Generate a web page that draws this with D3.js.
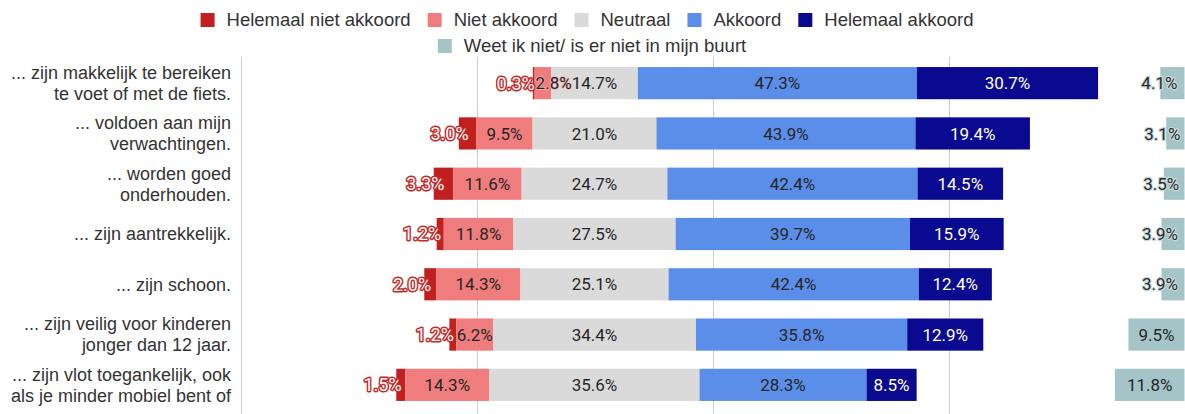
<!DOCTYPE html>
<html>
<head>
<meta charset="utf-8">
<script src="https://cdn.jsdelivr.net/npm/d3@7"></script>
<style>
  html, body { margin: 0; padding: 0; background: #fff; }
  svg { display: block; }
</style>
</head>
<body>
<svg id="chart" width="1185" height="414"></svg>
<script>
// ---- data ----
const categories = [
  ["... zijn makkelijk te bereiken", "te voet of met de fiets."],
  ["... voldoen aan mijn", "verwachtingen."],
  ["... worden goed", "onderhouden."],
  ["... zijn aantrekkelijk."],
  ["... zijn schoon."],
  ["... zijn veilig voor kinderen", "jonger dan 12 jaar."],
  ["... zijn vlot toegankelijk, ook", "als je minder mobiel bent of"]
];
const seriesNames = ["Helemaal niet akkoord", "Niet akkoord", "Neutraal", "Akkoord", "Helemaal akkoord", "Weet ik niet/ is er niet in mijn buurt"];
const helemaalNietAkkoord = [0.3, 3.0, 3.3, 1.2, 2.0, 1.2, 1.5];
const nietAkkoord        = [2.8, 9.5, 11.6, 11.8, 14.3, 6.2, 14.3];
const neutraal           = [14.7, 21.0, 24.7, 27.5, 25.1, 34.4, 35.6];
const akkoord            = [47.3, 43.9, 42.4, 39.7, 42.4, 35.8, 28.3];
const helemaalAkkoord    = [30.7, 19.4, 14.5, 15.9, 12.4, 12.9, 8.5];
const weetNiet           = [4.1, 3.1, 3.5, 3.9, 3.9, 9.5, 11.8];
const gridTicks = [-60, -20, 20, 60];

const colors = ["#c0201f", "#f07d7d", "#dadada", "#5a8ee8", "#0a0a91", "#a5c4c8"];

// ---- layout ----
const svg = d3.select("#chart");
const x = d3.scaleLinear().domain([-60, 100]).range([240.5, 1184.5]);
const y = d3.scaleBand().domain(d3.range(categories.length)).range([58, 410]).paddingInner(0.36).paddingOuter(0.18);

// grid lines
svg.append("g").selectAll("line").data(gridTicks).join("line")
  .attr("x1", d => Math.round(x(d)) + 0.5).attr("x2", d => Math.round(x(d)) + 0.5)
  .attr("y1", 57).attr("y2", 414)
  .attr("stroke", "#cccccc").attr("stroke-width", 1);

// build stacked segments (diverging, centred on the middle of Neutraal)
const segs = [];
categories.forEach((c, i) => {
  const vals = [helemaalNietAkkoord[i], nietAkkoord[i], neutraal[i], akkoord[i], helemaalAkkoord[i]];
  let start = -(vals[0] + vals[1] + vals[2] / 2);
  vals.forEach((v, k) => {
    segs.push({ row: i, k, v, x0: start, x1: start + v });
    start += v;
  });
  segs.push({ row: i, k: 5, v: weetNiet[i], x0: 100 - weetNiet[i], x1: 100 });
});

const bh = y.bandwidth();
svg.append("g").selectAll("rect").data(segs).join("rect")
  .attr("x", d => x(d.x0))
  .attr("width", d => x(d.x1) - x(d.x0))
  .attr("y", d => y(d.row))
  .attr("height", bh)
  .attr("fill", d => colors[d.k]);

// labels
const lab = svg.append("g").attr("font-family", "Roboto, sans-serif").attr("font-size", 17);
segs.forEach(d => {
  const cx = (x(d.x0) + x(d.x1)) / 2;
  const cy = y(d.row) + bh / 2;
  const w = x(d.x1) - x(d.x0);
  const t = lab.append("text").text(d.v.toFixed(1) + "%")
    .attr("y", cy).attr("dy", "0.36em");
  if (d.k === 0) {
    t.attr("x", cx + 1).attr("text-anchor", "end").attr("font-size", 18)
     .attr("fill", "#ffffff").attr("stroke", "#c62828").attr("stroke-width", 3)
     .attr("paint-order", "stroke").attr("stroke-linejoin", "round");
  } else if (d.k === 5 && w < 34) {
    t.attr("x", cx + 5).attr("text-anchor", "end")
     .attr("fill", "#2a2a2a").attr("stroke", "#c8dadc").attr("stroke-width", 2.4)
     .attr("paint-order", "stroke").attr("stroke-linejoin", "round");
  } else {
    t.attr("x", cx).attr("text-anchor", "middle")
     .attr("fill", d.k === 4 ? "#ffffff" : "#262626");
    if (d.k === 1 && w < 34) {
      t.attr("x", x(d.x0) + 1).attr("text-anchor", "start")
       .attr("stroke", "#f3b0b0").attr("stroke-width", 1.5).attr("paint-order", "stroke");
    }
  }
});

// category labels
const cat = svg.append("g").attr("font-family", "'Liberation Sans', Arial, sans-serif").attr("font-size", 18).attr("fill", "#333");
categories.forEach((lines, i) => {
  const cy = y(i) + bh / 2;
  const n = lines.length;
  lines.forEach((ln, j) => {
    cat.append("text").text(ln)
      .attr("x", 231).attr("text-anchor", "end")
      .attr("y", cy + (j - (n - 1) / 2) * 21).attr("dy", "0.35em");
  });
});

// legend
const legend = svg.append("g").attr("font-family", "'Liberation Sans', Arial, sans-serif").attr("font-size", 18.5).attr("fill", "#333");
function legendRow(items, cy, centerX, gap) {
  const g = legend.append("g");
  let cur = 0;
  items.forEach(k => {
    const it = g.append("g").attr("transform", `translate(${cur},0)`);
    it.append("rect").attr("x", 0).attr("y", cy - 7).attr("width", 14).attr("height", 14).attr("fill", colors[k]);
    const tx = it.append("text").text(seriesNames[k]).attr("x", 26).attr("y", cy).attr("dy", "0.35em");
    cur += 26 + tx.node().getComputedTextLength() + gap;
  });
  const total = cur - gap;
  g.attr("transform", `translate(${centerX - total / 2},0)`);
}
legendRow([0, 1, 2, 3, 4], 20, 587, 17);
legendRow([5], 46, 592, 17);
</script>
</body>
</html>
